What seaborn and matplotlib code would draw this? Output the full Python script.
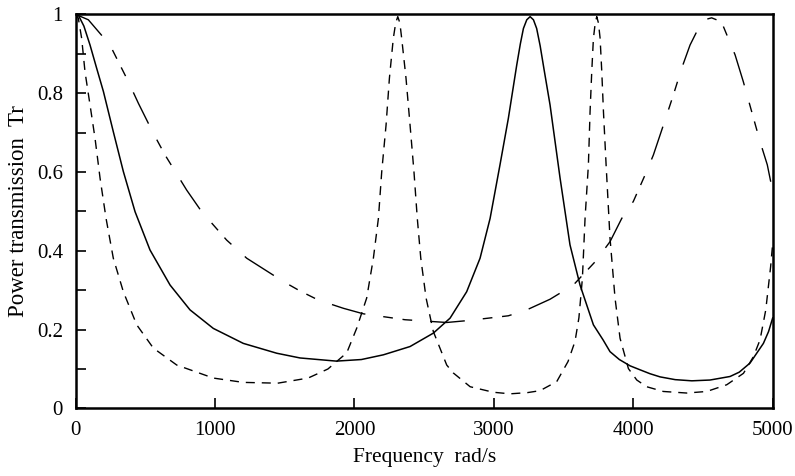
import matplotlib
matplotlib.use("Agg")
import matplotlib.pyplot as plt
import seaborn as sns

solid_f = [0, 20, 60, 104, 150, 200, 271, 343, 427, 534, 678, 821, 988, 1203, 1443, 1610, 1870,
           2050, 2208, 2399, 2566, 2686, 2805, 2901, 2973, 3044, 3104, 3164, 3190, 3212, 3236,
           3260, 3284, 3307, 3332, 3360, 3403, 3475, 3546, 3618, 3714, 3783, 3833, 3900, 3977,
           4048, 4120, 4192, 4300, 4420, 4550, 4694, 4760, 4837, 4885, 4933, 4970, 5000]
solid_t = [1.0, 0.998, 0.97, 0.922, 0.865, 0.804, 0.702, 0.601, 0.499, 0.402, 0.313, 0.250, 0.203,
           0.165, 0.140, 0.128, 0.120, 0.124, 0.136, 0.157, 0.191, 0.229, 0.296, 0.381, 0.482,
           0.618, 0.736, 0.871, 0.925, 0.964, 0.986, 0.994, 0.986, 0.964, 0.92, 0.860, 0.770,
           0.584, 0.415, 0.313, 0.212, 0.174, 0.144, 0.124, 0.108, 0.098, 0.088, 0.080, 0.073,
           0.070, 0.072, 0.081, 0.092, 0.115, 0.140, 0.165, 0.195, 0.23]

short_f = [0, 20, 44, 68, 104, 140, 176, 219, 271, 343, 439, 558, 726, 988, 1203, 1450, 1668,
           1810, 1945, 2016, 2088, 2136, 2172, 2196, 2227, 2251, 2279, 2296, 2311, 2326, 2339,
           2370, 2399, 2427, 2451, 2476, 2514, 2566, 2662, 2709, 2830, 2996, 3116, 3240, 3331,
           3451, 3532, 3582, 3610, 3635, 3654, 3678, 3690, 3702, 3714, 3727, 3738, 3750, 3762,
           3774, 3786, 3805, 3833, 3869, 3905, 3965, 4025, 4096, 4215, 4383, 4527, 4670, 4790,
           4861, 4909, 4950, 4985, 5000]
short_t = [1.0, 0.99, 0.939, 0.854, 0.770, 0.685, 0.584, 0.482, 0.381, 0.296, 0.212, 0.153, 0.110,
           0.077, 0.066, 0.064, 0.077, 0.100, 0.141, 0.203, 0.280, 0.381, 0.482, 0.601, 0.719,
           0.838, 0.939, 0.978, 0.994, 0.978, 0.939, 0.838, 0.719, 0.601, 0.482, 0.381, 0.280,
           0.195, 0.110, 0.090, 0.055, 0.041, 0.037, 0.040, 0.045, 0.068, 0.119, 0.170, 0.230,
           0.330, 0.482, 0.618, 0.753, 0.854, 0.939, 0.978, 0.994, 0.978, 0.939, 0.854, 0.753,
           0.618, 0.432, 0.280, 0.178, 0.101, 0.072, 0.055, 0.043, 0.039, 0.043, 0.060, 0.089,
           0.131, 0.174, 0.25, 0.36, 0.42]

long_f = [0, 92, 247, 379, 451, 558, 642, 797, 905, 1084, 1228, 1490, 1610, 1741, 1921, 2064,
          2363, 2662, 2817, 3104, 3236, 3403, 3570, 3726, 3833, 3917, 4000, 4084, 4144, 4216,
          4287, 4347, 4407, 4479, 4520, 4562, 4604, 4646, 4730, 4789, 4849, 4909, 4961, 5000]
long_t = [1.0, 0.986, 0.922, 0.829, 0.774, 0.698, 0.643, 0.554, 0.499, 0.427, 0.381, 0.322, 0.298,
          0.275, 0.254, 0.240, 0.225, 0.218, 0.223, 0.235, 0.250, 0.277, 0.313, 0.372, 0.423, 0.482,
          0.525, 0.592, 0.643, 0.719, 0.795, 0.863, 0.922, 0.973, 0.987, 0.991, 0.985, 0.969, 0.897,
          0.829, 0.753, 0.677, 0.618, 0.55]

xticks = [0, 1000, 2000, 3000, 4000, 5000]
xtick_labels = ["0", "1000", "2000", "3000", "4000", "5000"]
yticks = [0, 0.1, 0.2, 0.3, 0.4, 0.5, 0.6, 0.7, 0.8, 0.9, 1.0]
ytick_labels = ["0", "", "0.2", "", "0.4", "", "0.6", "", "0.8", "", "1"]

sns.set_theme(style="white")
plt.rcParams['font.family'] = ['Liberation Serif', 'DejaVu Serif']

fig = plt.figure(figsize=(7.95, 4.76), dpi=100)
ax = fig.add_axes([0.095, 0.142, 0.877, 0.828])

sns.lineplot(x=solid_f, y=solid_t, ax=ax, color="black", lw=1.1, sort=False, estimator=None)
sns.lineplot(x=short_f, y=short_t, ax=ax, color="black", lw=1.0, sort=False, estimator=None)
sns.lineplot(x=long_f, y=long_t, ax=ax, color="black", lw=1.0, sort=False, estimator=None)
lines = ax.get_lines()
lines[1].set_dashes([6.5, 5])
lines[2].set_dashes([25, 13, 7, 7, 7, 13])

ax.set_xlim(0, 5000)
ax.set_ylim(0, 1)
ax.set_xticks(xticks)
ax.set_xticklabels(xtick_labels)
ax.set_yticks(yticks)
ax.set_yticklabels(ytick_labels)
ax.tick_params(axis='both', direction='in', length=7, width=1.2, colors='black',
               labelsize=15, pad=9, left=True, bottom=True, top=False, right=False)
for s in ax.spines.values():
    s.set_color('black')
    s.set_linewidth(1.8)

ax.set_xlabel("Frequency  rad/s", fontsize=15.5, color='black', labelpad=6)
ax.set_ylabel("Power transmission  Tr", fontsize=16.5, color='black', labelpad=6)

fig.savefig("out.png", dpi=100)
